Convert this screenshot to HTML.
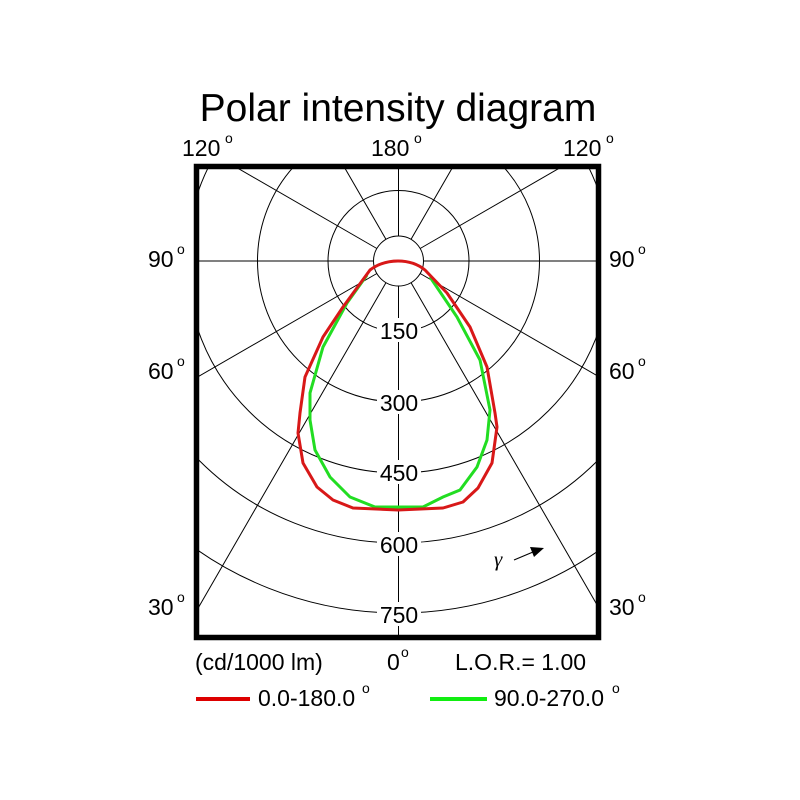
<!DOCTYPE html>
<html><head><style>html,body{margin:0;background:#fff;overflow:hidden;width:800px;height:800px}svg{display:block}</style></head><body>
<svg width="800" height="800" xmlns="http://www.w3.org/2000/svg" font-family="Liberation Sans, sans-serif">
<defs><clipPath id="c"><rect x="197" y="167" width="401" height="471"/></clipPath></defs>
<text x="398" y="121" font-size="39" text-anchor="middle">Polar intensity diagram</text>
<g font-size="23" fill="#000">
<text x="182" y="156">120</text><text x="225" y="143" font-size="14">o</text>
<text x="371" y="156">180</text><text x="414" y="143" font-size="14">o</text>
<text x="563" y="156">120</text><text x="606" y="143" font-size="14">o</text>
<text x="148" y="267">90</text><text x="177" y="254" font-size="14">o</text>
<text x="609" y="267">90</text><text x="638" y="254" font-size="14">o</text>
<text x="148" y="379">60</text><text x="177" y="366" font-size="14">o</text>
<text x="609" y="379">60</text><text x="638" y="366" font-size="14">o</text>
<text x="148" y="615">30</text><text x="177" y="602" font-size="14">o</text>
<text x="609" y="615">30</text><text x="638" y="602" font-size="14">o</text>
<text x="195" y="670">(cd/1000 lm)</text>
<text x="387" y="670">0</text><text x="401" y="657" font-size="14">o</text>
<text x="455" y="670">L.O.R.= 1.00</text>
<text x="258" y="706">0.0-180.0</text><text x="362" y="693" font-size="14">o</text>
<text x="494" y="706">90.0-270.0</text><text x="612" y="693" font-size="14">o</text>
</g>
<line x1="196" y1="699" x2="250" y2="699" stroke="#d00" stroke-width="4"/>
<line x1="430" y1="699" x2="487" y2="699" stroke="#1e1" stroke-width="4"/>
<g clip-path="url(#c)" stroke="#000" stroke-width="1" fill="none">
<circle cx="398.5" cy="261" r="25"/>
<circle cx="398.5" cy="261" r="70.5"/>
<circle cx="398.5" cy="261" r="141"/>
<circle cx="398.5" cy="261" r="212"/>
<circle cx="398.5" cy="261" r="282"/>
<circle cx="398.5" cy="261" r="352"/>
<g transform="translate(398.5 261)">
<line x1="0" y1="25" x2="0" y2="600"/>
<line x1="0" y1="-25" x2="0" y2="-600"/>
<line x1="25" y1="0" x2="600" y2="0"/>
<line x1="-25" y1="0" x2="-600" y2="0"/>
<g transform="rotate(30)"><line x1="0" y1="25" x2="0" y2="800"/><line x1="0" y1="-25" x2="0" y2="-800"/></g>
<g transform="rotate(-30)"><line x1="0" y1="25" x2="0" y2="800"/><line x1="0" y1="-25" x2="0" y2="-800"/></g>
<g transform="rotate(60)"><line x1="0" y1="25" x2="0" y2="800"/><line x1="0" y1="-25" x2="0" y2="-800"/></g>
<g transform="rotate(-60)"><line x1="0" y1="25" x2="0" y2="800"/><line x1="0" y1="-25" x2="0" y2="-800"/></g>
</g>
</g>
<g font-size="23" text-anchor="middle">
<rect x="377" y="318" width="44" height="24" fill="#fff"/><text x="399" y="339">150</text>
<rect x="377" y="390" width="44" height="24" fill="#fff"/><text x="399" y="411">300</text>
<rect x="377" y="460" width="44" height="24" fill="#fff"/><text x="399" y="481">450</text>
<rect x="377" y="532" width="44" height="24" fill="#fff"/><text x="399" y="553">600</text>
<rect x="377" y="602" width="44" height="24" fill="#fff"/><text x="399" y="623">750</text>
</g>
<text x="494" y="566" font-size="21" font-family="Liberation Serif, serif" font-style="italic">γ</text>
<line x1="514" y1="560" x2="533" y2="552" stroke="#000" stroke-width="1.2"/>
<polygon points="544,548 530,547 534,557" fill="#000"/>
<polyline fill="none" stroke="#22dd22" stroke-width="3" points="367,275 347,303 323,347 310,393 310,420 315,450 330,477 350,497 375,507 423,507 443,497 460,490 477,467 487,440 490,410 488,400 480,360 457,317 430,277"/>
<path fill="none" stroke="#d81818" stroke-width="3" stroke-linejoin="round" d="M370,270 Q382,261 398,261 Q414,261 425,270 L447,293 L470,327 L487,367 L495,413 L497,427 L492,463 L478,488 L463,502 L443,508 L398,510 L353,508 L333,500 L317,487 L303,463 L298,433 L300,413 L305,377 L323,337 L343,307 Z"/>
<rect x="196.5" y="166.5" width="402" height="471" fill="none" stroke="#000" stroke-width="5.5"/>
</svg>
</body></html>
